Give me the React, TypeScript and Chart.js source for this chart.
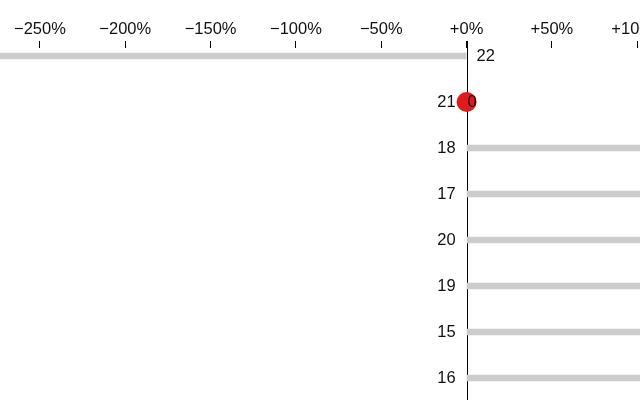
import React, { useEffect, useRef } from "react";
import { Chart, registerables } from "chart.js";

Chart.register(...registerables);

const CATEGORIES = ["22", "21", "18", "17", "20", "19", "15", "16"];
const CHANGE_PCT: (number | null)[] = [-290, null, 120, 135, 150, 170, 190, 220];
const DOT_CATEGORY = ["21"];
const DOT_VALUE = [0];
const DOT_LABEL = ["0"];
const X_TICKS = [-250, -200, -150, -100, -50, 0, 50, 100];
const X_MIN = -273.4;
const X_MAX = 101.6;

const FONT = "'Liberation Sans', Arial, sans-serif";
const FONT_SIZE = 16.5;

const fmt = (v: number) => (v < 0 ? "\u2212" + Math.abs(v) + "%" : "+" + v + "%");

export default function App() {
  const ref = useRef<HTMLCanvasElement | null>(null);

  useEffect(() => {
    if (!ref.current) return;

    const labelPlugin = {
      id: "labels",
      beforeDatasetsDraw(chart: any) {
        const { ctx, chartArea, scales } = chart;
        const x0 = Math.round(scales.x.getPixelForValue(0)) + 0.5;
        ctx.save();
        ctx.strokeStyle = "#000";
        ctx.lineWidth = 1;
        ctx.beginPath();
        ctx.moveTo(x0, chartArea.top - 7);
        ctx.lineTo(x0, chartArea.bottom);
        ctx.stroke();
        ctx.restore();
      },
      afterDatasetsDraw(chart: any) {
        const { ctx, scales } = chart;
        const x0 = scales.x.getPixelForValue(0);
        ctx.save();
        ctx.font = FONT_SIZE + "px " + FONT;
        ctx.fillStyle = "#111";
        ctx.textBaseline = "middle";
        CATEGORIES.forEach((c, i) => {
          const v = CHANGE_PCT[i];
          const y = scales.y.getPixelForValue(i);
          if (v !== null && v < 0) {
            ctx.textAlign = "left";
            ctx.fillText(c, x0 + 10, y);
          } else {
            ctx.textAlign = "right";
            ctx.fillText(c, x0 - 11, y);
          }
        });
        DOT_CATEGORY.forEach((c, k) => {
          const i = CATEGORIES.indexOf(c);
          const y = scales.y.getPixelForValue(i);
          ctx.textAlign = "left";
          ctx.fillText(DOT_LABEL[k], scales.x.getPixelForValue(DOT_VALUE[k]) + 1, y);
        });
        ctx.restore();
      },
    };

    const chart = new Chart(ref.current, {
      type: "bar",
      data: {
        datasets: [
          {
            type: "scatter",
            order: 0,
            data: DOT_CATEGORY.map((c, k) => ({ x: DOT_VALUE[k], y: CATEGORIES.indexOf(c) })),
            pointRadius: 10,
            pointHoverRadius: 10,
            backgroundColor: "#e31a1c",
            borderWidth: 0,
          } as any,
          {
            type: "bar",
            order: 1,
            data: CATEGORIES.map((c, i) => ({ x: CHANGE_PCT[i], y: i })),
            backgroundColor: "#cccccc",
            borderWidth: 0,
            barThickness: 6,
          } as any,
        ],
      },
      options: {
        indexAxis: "y",
        animation: false,
        responsive: true,
        maintainAspectRatio: false,
        layout: { autoPadding: false, padding: { top: 17.2, left: 0, right: 0, bottom: 0 } },
        plugins: { legend: { display: false }, tooltip: { enabled: false } },
        scales: {
          x: {
            type: "linear",
            position: "top",
            offset: false,
            min: X_MIN,
            max: X_MAX,
            afterBuildTicks: (s: any) => {
              s.ticks = X_TICKS.map((v) => ({ value: v }));
            },
            afterFit: (s: any) => {
              s.paddingLeft = 0;
              s.paddingRight = 0;
            },
            border: { display: false },
            grid: {
              drawOnChartArea: false,
              drawTicks: true,
              tickLength: 7,
              color: "#000",
              lineWidth: 1,
            },
            ticks: {
              padding: 2,
              color: "#111",
              font: { size: FONT_SIZE, family: FONT },
              maxRotation: 0,
              autoSkip: false,
              callback: (v: any) => fmt(Number(v)),
            },
          },
          y: {
            type: "linear",
            display: false,
            offset: false,
            reverse: true,
            min: -0.174,
            max: 7.478,
            grid: { display: false, offset: false },
          },
        },
      },
      plugins: [labelPlugin],
    } as any);

    return () => chart.destroy();
  }, []);

  return (
    <div style={{ position: "fixed", left: 0, top: 0, width: 640, height: 400, background: "#fff" }}>
      <canvas ref={ref} />
    </div>
  );
}
